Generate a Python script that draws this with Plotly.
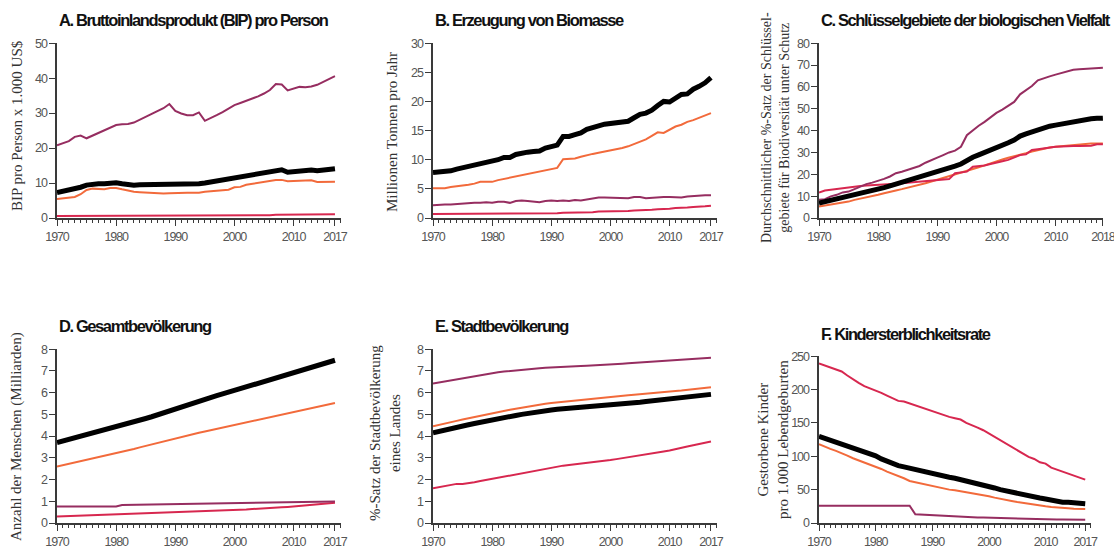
import plotly.graph_objects as go

W, H = 1114, 549

years = list(range(1970, 2018))
years_c = list(range(1970, 2019))

# A. GDP per person (thousand US$)
a_purple = [20.8, 21.3, 22.0, 23.2, 23.6, 22.8, 23.6, 24.3, 25.1, 26.0,
            26.6, 26.8, 26.9, 27.3, 28.1, 29.0, 29.8, 30.5, 31.4, 32.6,
            30.6, 29.9, 29.4, 29.4, 30.2, 27.8, 28.5, 29.4, 30.3, 31.2,
            32.3, 32.9, 33.5, 34.0, 34.8, 35.6, 36.6, 38.3, 38.2, 36.5,
            37.0, 37.5, 37.4, 37.6, 38.1, 39.0, 39.8, 40.6]
a_black = [7.3, 7.6, 7.9, 8.3, 8.8, 9.4, 9.7, 9.8, 9.8, 10.1,
           10.1, 9.8, 9.5, 9.4, 9.5, 9.5, 9.5, 9.5, 9.6, 9.8,
           9.8, 9.7, 9.7, 9.7, 9.8, 10.0, 10.3, 10.6, 10.8, 11.1,
           11.5, 11.7, 12.0, 12.3, 12.7, 13.0, 13.4, 13.8, 13.8, 13.1,
           13.3, 13.6, 13.7, 13.7, 13.5, 13.8, 14.0, 14.1]
a_orange = [5.4, 5.6, 5.8, 6.0, 6.8, 8.0, 8.4, 8.4, 8.2, 8.6,
            8.6, 8.2, 7.8, 7.5, 7.4, 7.3, 7.1, 7.0, 7.0, 7.1,
            7.2, 7.2, 7.2, 7.2, 7.2, 7.5, 7.7, 7.8, 8.0, 8.1,
            8.8, 8.9, 9.5, 9.8, 10.2, 10.4, 10.7, 10.9, 10.9, 10.5,
            10.6, 10.7, 10.8, 10.8, 10.3, 10.3, 10.4, 10.4]
a_red = [0.6, 0.6, 0.6, 0.6, 0.6, 0.6, 0.6, 0.6, 0.7, 0.7,
         0.7, 0.7, 0.7, 0.7, 0.7, 0.7, 0.7, 0.7, 0.7, 0.7,
         0.7, 0.7, 0.7, 0.7, 0.7, 0.7, 0.7, 0.7, 0.7, 0.7,
         0.7, 0.7, 0.7, 0.8, 0.8, 0.8, 0.8, 0.9, 0.9, 0.9,
         0.9, 1.0, 1.0, 1.0, 1.0, 1.0, 1.1, 1.1]

# B. Biomass production (million tonnes per year)
b_black = [7.8, 7.9, 7.8, 8.1, 8.4, 8.6, 8.8, 9.1, 9.4, 9.6,
           9.6, 10.0, 10.4, 10.4, 10.9, 11.2, 11.3, 11.4, 11.5, 12.0,
           12.3, 12.5, 14.0, 14.0, 14.3, 14.6, 15.2, 15.4, 15.8, 16.1,
           16.2, 16.3, 16.5, 16.6, 17.2, 17.8, 18.0, 18.5, 19.3, 20.0,
           19.9, 20.5, 21.2, 21.3, 22.1, 22.6, 23.2, 24.1]
b_orange = [5.1, 5.1, 5.1, 5.3, 5.4, 5.6, 5.7, 5.9, 6.2, 6.2,
            6.2, 6.5, 6.7, 6.9, 7.2, 7.3, 7.5, 7.7, 7.9, 8.1,
            8.3, 8.6, 10.1, 10.2, 10.2, 10.5, 10.8, 11.0, 11.2, 11.4,
            11.5, 11.8, 12.0, 12.3, 12.7, 13.0, 13.5, 14.1, 14.7, 14.6,
            15.1, 15.7, 16.0, 16.5, 16.8, 17.2, 17.6, 18.0]
b_purple = [2.2, 2.3, 2.3, 2.3, 2.4, 2.4, 2.5, 2.6, 2.6, 2.7,
            2.6, 2.8, 2.8, 2.6, 2.9, 3.0, 2.9, 2.8, 2.7, 2.9,
            3.0, 2.9, 3.0, 2.9, 3.1, 3.0, 3.2, 3.3, 3.5, 3.5,
            3.5, 3.4, 3.4, 3.4, 3.6, 3.6, 3.4, 3.5, 3.6, 3.6,
            3.6, 3.6, 3.5, 3.7, 3.8, 3.8, 3.9, 3.9]
b_red = [0.7, 0.7, 0.7, 0.7, 0.7, 0.7, 0.7, 0.7, 0.7, 0.7,
         0.7, 0.7, 0.7, 0.7, 0.7, 0.8, 0.8, 0.8, 0.8, 0.8,
         0.8, 0.8, 0.9, 0.9, 0.9, 1.0, 1.0, 1.0, 1.1, 1.1,
         1.1, 1.1, 1.2, 1.2, 1.3, 1.3, 1.4, 1.4, 1.5, 1.5,
         1.6, 1.7, 1.7, 1.8, 1.9, 1.9, 2.0, 2.1]

# C. Key biodiversity areas protected (%)
c_purple = [8.3, 8.6, 9.9, 10.6, 11.7, 12.1, 13.2, 14.4, 15.5, 16.2,
            17.0, 17.9, 19.0, 20.5, 21.2, 22.0, 22.8, 23.8, 25.3, 26.3,
            27.6, 28.8, 30.0, 30.8, 32.6, 37.9, 40.2, 42.2, 44.0, 46.0,
            48.1, 49.6, 51.3, 53.1, 56.6, 58.4, 60.4, 63.0, 64.0, 64.8,
            65.6, 66.3, 66.8, 67.8, 68.1, 68.3, 68.6, 68.7, 68.7]
c_black = [6.8, 7.4, 8.0, 8.7, 9.4, 10.0, 10.6, 11.2, 11.8, 12.5,
           13.2, 13.9, 14.7, 15.5, 16.4, 16.9, 17.5, 18.4, 19.3, 20.2,
           21.2, 22.0, 22.8, 23.7, 24.7, 26.6, 27.8, 28.9, 29.9, 31.0,
           32.2, 33.3, 34.4, 35.7, 37.5, 38.5, 39.5, 40.5, 41.4, 42.0,
           42.5, 43.0, 43.6, 44.2, 44.8, 45.1, 45.4, 45.6, 45.7]
c_orange = [5.3, 5.7, 6.1, 6.4, 6.8, 7.5, 8.3, 8.8, 9.4, 10.0,
            10.6, 11.3, 12.1, 12.6, 13.2, 13.8, 14.4, 15.1, 15.9, 16.7,
            17.5, 18.2, 19.0, 19.7, 20.5, 21.4, 22.3, 23.2, 24.1, 25.1,
            26.1, 26.8, 27.6, 28.2, 28.8, 29.6, 30.4, 31.1, 31.9, 32.3,
            32.6, 32.9, 33.1, 33.4, 33.7, 33.9, 34.1, 34.1, 34.1]
c_red = [11.7, 12.6, 12.9, 13.3, 13.7, 14.0, 14.4, 14.6, 14.9, 15.0,
         15.2, 15.3, 15.5, 15.7, 15.9, 16.1, 16.4, 16.5, 16.7, 16.9,
         17.1, 17.4, 17.8, 20.5, 20.8, 21.2, 23.5, 23.7, 24.0, 24.7,
         25.5, 26.0, 26.6, 27.7, 28.8, 29.1, 31.1, 31.5, 31.9, 32.2,
         32.6, 32.7, 32.9, 32.9, 32.9, 33.0, 33.1, 33.7, 33.7]

# D. Total population (billions)
d_black = [3.70, 3.77, 3.84, 3.91, 3.98, 4.06, 4.13, 4.20, 4.27, 4.34,
           4.42, 4.49, 4.57, 4.65, 4.73, 4.81, 4.89, 4.98, 5.06, 5.15,
           5.28, 5.37, 5.45, 5.54, 5.62, 5.70, 5.78, 5.86, 5.94, 6.02,
           6.11, 6.19, 6.27, 6.35, 6.43, 6.51, 6.59, 6.67, 6.76, 6.84,
           6.92, 7.00, 7.09, 7.17, 7.26, 7.34, 7.43, 7.49]
d_orange = [2.60, 2.66, 2.72, 2.78, 2.84, 2.90, 2.96, 3.02, 3.08, 3.14,
            3.20, 3.27, 3.34, 3.41, 3.48, 3.55, 3.62, 3.69, 3.76, 3.83,
            3.90, 3.96, 4.02, 4.08, 4.15, 4.21, 4.27, 4.33, 4.39, 4.46,
            4.52, 4.58, 4.64, 4.70, 4.75, 4.81, 4.87, 4.93, 4.99, 5.04,
            5.10, 5.16, 5.22, 5.28, 5.34, 5.40, 5.46, 5.52]
d_purple = [0.76, 0.76, 0.76, 0.76, 0.76, 0.76, 0.76, 0.76, 0.76, 0.76,
            0.76, 0.83, 0.835, 0.84, 0.845, 0.85, 0.855, 0.86, 0.865, 0.87,
            0.875, 0.88, 0.885, 0.89, 0.895, 0.90, 0.905, 0.91, 0.915, 0.92,
            0.925, 0.93, 0.935, 0.94, 0.945, 0.95, 0.955, 0.96, 0.963, 0.966,
            0.97, 0.972, 0.975, 0.978, 0.98, 0.983, 0.986, 0.99]
d_red = [0.30, 0.31, 0.31, 0.32, 0.33, 0.33, 0.34, 0.35, 0.36, 0.37,
         0.37, 0.38, 0.39, 0.40, 0.41, 0.42, 0.43, 0.44, 0.45, 0.46,
         0.47, 0.48, 0.49, 0.50, 0.52, 0.53, 0.54, 0.55, 0.57, 0.58,
         0.59, 0.61, 0.62, 0.64, 0.65, 0.67, 0.69, 0.70, 0.72, 0.74,
         0.76, 0.78, 0.80, 0.82, 0.84, 0.86, 0.89, 0.93]

# E. Urban population
e_purple = [6.42, 6.47, 6.52, 6.57, 6.62, 6.67, 6.72, 6.77, 6.82, 6.86,
            6.90, 6.94, 6.97, 7.00, 7.03, 7.06, 7.08, 7.10, 7.12, 7.14,
            7.16, 7.18, 7.19, 7.21, 7.22, 7.23, 7.24, 7.25, 7.26, 7.27,
            7.29, 7.31, 7.33, 7.35, 7.37, 7.39, 7.41, 7.43, 7.45, 7.47,
            7.49, 7.51, 7.53, 7.55, 7.56, 7.58, 7.59, 7.61]
e_orange = [4.45, 4.52, 4.58, 4.64, 4.70, 4.76, 4.82, 4.88, 4.94, 5.00,
            5.05, 5.11, 5.16, 5.21, 5.26, 5.31, 5.36, 5.41, 5.46, 5.49,
            5.52, 5.55, 5.58, 5.61, 5.64, 5.67, 5.70, 5.72, 5.75, 5.77,
            5.80, 5.83, 5.85, 5.88, 5.90, 5.93, 5.96, 5.98, 6.01, 6.03,
            6.05, 6.08, 6.10, 6.13, 6.16, 6.19, 6.22, 6.25]
e_black = [4.15, 4.22, 4.28, 4.34, 4.40, 4.46, 4.52, 4.58, 4.64, 4.70,
           4.75, 4.80, 4.85, 4.90, 4.95, 5.00, 5.05, 5.10, 5.14, 5.17,
           5.20, 5.23, 5.25, 5.27, 5.29, 5.31, 5.33, 5.35, 5.37, 5.39,
           5.41, 5.44, 5.47, 5.50, 5.53, 5.56, 5.59, 5.62, 5.65, 5.68,
           5.71, 5.74, 5.77, 5.80, 5.83, 5.86, 5.89, 5.92]
e_red = [1.60, 1.65, 1.70, 1.75, 1.80, 1.80, 1.83, 1.88, 1.93, 1.98,
         2.03, 2.08, 2.13, 2.18, 2.23, 2.28, 2.33, 2.39, 2.45, 2.51,
         2.56, 2.61, 2.64, 2.67, 2.70, 2.72, 2.75, 2.78, 2.82, 2.86,
         2.90, 2.94, 2.98, 3.02, 3.06, 3.10, 3.15, 3.19, 3.24, 3.29,
         3.34, 3.39, 3.46, 3.52, 3.58, 3.63, 3.69, 3.75]

# F. Child mortality (per 1,000 live births)
f_red = [239, 236, 234, 230, 227, 221, 215, 210, 205, 202,
         199, 195, 191, 187, 183, 182, 179, 176, 173, 170,
         167, 164, 162, 159, 157, 155, 150, 147, 143, 139,
         134, 129, 124, 119, 114, 109, 104, 99, 96, 91,
         89, 83, 80, 77, 74, 71, 68, 65]
f_black = [130, 127, 124.5, 122, 119.5, 116, 113, 110, 107, 104,
           100.6, 96, 92, 89, 86, 84, 82, 79.5, 77, 75,
           73, 71.5, 70, 68.5, 67, 65, 63, 61.5, 60, 57.5,
           55, 52.5, 50, 48, 46, 44, 42, 40.5, 39, 37.5,
           36, 34, 32, 31, 31, 30, 29.5, 29]
f_orange = [118, 114, 111, 108, 105, 101, 97, 94, 91, 88,
            85, 81, 77, 74, 71, 67, 63, 61, 59, 57,
            55, 53, 51, 50, 49, 47.5, 46, 45, 44, 42,
            40, 38, 36, 34.5, 33, 31.5, 30, 28.5, 27, 26,
            25, 24, 23, 22.5, 22, 21.5, 21, 21]
f_purple = [26, 26, 26, 26, 26, 26, 26, 26, 26, 26,
            26, 26, 26, 26, 26, 26, 26, 13, 12.5, 12,
            11.5, 11, 10.6, 10.2, 9.8, 9.4, 9.0, 8.7, 8.4, 8.1,
            7.8, 7.5, 7.2, 6.9, 6.7, 6.5, 6.3, 6.1, 5.9, 5.7,
            5.5, 5.3, 5.2, 5.1, 5.0, 4.9, 4.8, 4.7]

titles = ["A. Bruttoinlandsprodukt (BIP) pro Person",
          "B. Erzeugung von Biomasse",
          "C. Schlüsselgebiete der biologischen Vielfalt",
          "D. Gesamtbevölkerung",
          "E. Stadtbevölkerung",
          "F. Kindersterblichkeitsrate"]
ytitles = ["BIP pro Person x 1.000 US$",
           "Millionen Tonnen pro Jahr",
           "Durchschnittlicher %-Satz der Schlüssel-<br>gebiete für Biodiversität unter Schutz",
           "Anzahl der Menschen (Milliarden)",
           "%-Satz der Stadtbevölkerung<br>eines Landes",
           "Gestorbene Kinder<br>pro 1.000 Lebendgeburten"]
x_ticks = [1970, 1980, 1990, 2000, 2010, 2017]
x_ticks_c = [1970, 1980, 1990, 2000, 2010, 2018]

COL = {"black": "#000000", "orange": "#f26a3b", "purple": "#962d60", "red": "#d7274f"}
WID = {"black": 5, "orange": 2, "purple": 2, "red": 2}

panels = [
    dict(x=years, s={"red": a_red, "purple": a_purple, "orange": a_orange, "black": a_black},
         yr=[0, 50], dt=10, xt=x_ticks, xmax=2018, px=(57, 341), py=(43, 218)),
    dict(x=years, s={"red": b_red, "purple": b_purple, "orange": b_orange, "black": b_black},
         yr=[0, 30], dt=5, xt=x_ticks, xmax=2018, px=(433, 717), py=(43, 218)),
    dict(x=years_c, s={"orange": c_orange, "red": c_red, "purple": c_purple, "black": c_black},
         yr=[0, 80], dt=10, xt=x_ticks_c, xmax=2018, px=(819, 1103), py=(43, 218)),
    dict(x=years, s={"red": d_red, "purple": d_purple, "orange": d_orange, "black": d_black},
         yr=[0, 8], dt=1, xt=x_ticks, xmax=2018, px=(57, 341), py=(349, 523)),
    dict(x=years, s={"red": e_red, "purple": e_purple, "orange": e_orange, "black": e_black},
         yr=[0, 8], dt=1, xt=x_ticks, xmax=2018, px=(433, 717), py=(349, 523)),
    dict(x=years, s={"red": f_red, "purple": f_purple, "orange": f_orange, "black": f_black},
         yr=[0, 250], dt=50, xt=x_ticks, xmax=2018, px=(819, 1091), py=(356, 523)),
]

title_pos = [(57, 20), (433, 20), (819, 20), (57, 326), (433, 326), (819, 334)]
ytitle_pos = [(17, 126, 15), (392, 132, 15), (775, 128, 14), (16, 437, 15), (385, 433, 15), (773, 440, 15)]

SANS = "Liberation Sans, Arial, sans-serif"
TICKFONT = dict(family=SANS, size=12.5, color="#555555")
TITLEFONT = dict(family=SANS, size=16.5, color="#111111")
SERIF = "Liberation Serif, Times New Roman, serif"
EPS = 0.02


def tight(t, ls):
    return '<span style="letter-spacing:%spx">%s</span>' % (ls, t)


fig = go.Figure()
layout = dict(width=W, height=H, margin=dict(l=0, r=0, t=0, b=0, autoexpand=False),
              paper_bgcolor="white", plot_bgcolor="white", showlegend=False)
annotations = []

for i, p in enumerate(panels):
    k = "" if i == 0 else str(i + 1)
    for name, vals in p["s"].items():
        fig.add_trace(go.Scatter(x=p["x"], y=vals, mode="lines",
                                 line=dict(color=COL[name], width=WID[name]),
                                 xaxis="x" + k, yaxis="y" + k, hoverinfo="skip"))
    x0, x1 = p["px"]
    y0, y1 = p["py"]
    yvals = list(range(p["yr"][0], p["yr"][1] + p["dt"], p["dt"]))
    layout["xaxis" + k] = dict(
        domain=[x0 / W, x1 / W], range=[1970, p["xmax"] + EPS], anchor="y" + k, automargin=False,
        showline=True, linecolor="#3a3a3a", linewidth=1.5, showgrid=False, zeroline=False,
        ticks="outside", ticklen=6, tickwidth=1.2, tickcolor="#3a3a3a",
        tickmode="array", tickvals=p["xt"], ticktext=[tight(t, -1.1) for t in p["xt"]],
        tickfont=TICKFONT, ticklabeloverflow="allow",
        minor=dict(ticks="outside", ticklen=3.5, tickwidth=1, tickcolor="#3a3a3a",
                   tickmode="array", tickvals=list(range(1970, p["xmax"] + 1))))
    layout["yaxis" + k] = dict(
        domain=[1 - y1 / H, 1 - y0 / H], range=[p["yr"][0], p["yr"][1] * (1 + 0.001)],
        anchor="x" + k, automargin=False,
        showline=True, linecolor="#3a3a3a", linewidth=1.5, showgrid=False, zeroline=False,
        ticks="outside", ticklen=6, tickwidth=1.2, tickcolor="#3a3a3a",
        tickmode="array", tickvals=yvals, ticktext=[tight(v, -1.1) for v in yvals],
        tickfont=TICKFONT, ticklabeloverflow="allow")
    tx, ty = title_pos[i]
    annotations.append(dict(text="<b>" + tight(titles[i], -1.4) + "</b>", xref="paper", yref="paper",
                            x=tx / W, y=1 - ty / H, xanchor="left", yanchor="middle",
                            showarrow=False, font=TITLEFONT))
    ax, ay, fs = ytitle_pos[i]
    annotations.append(dict(text=ytitles[i], xref="paper", yref="paper",
                            x=ax / W, y=1 - ay / H, xanchor="center", yanchor="middle",
                            textangle=-90, showarrow=False,
                            font=dict(family=SERIF, size=fs, color="#333333")))

layout["annotations"] = annotations
fig.update_layout(**layout)
fig.write_html("out.html", config={"displayModeBar": False},
               post_script="document.body.style.margin='0';document.body.style.overflow='hidden';")
